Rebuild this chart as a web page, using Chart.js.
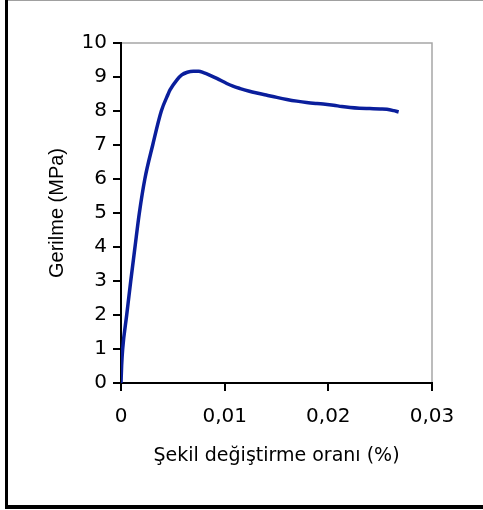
<!DOCTYPE html>
<html>
<head>
<meta charset="utf-8">
<script src="https://cdn.jsdelivr.net/npm/chart.js@4"></script>
<style>
html,body{margin:0;padding:0;background:#fff;}
#wrap{position:relative;width:483px;height:510px;}
</style>
</head>
<body>
<div id="wrap"><canvas id="c" width="483" height="510"></canvas></div>
<script>
// Data
const strain = [0, 0.00006, 0.00016, 0.00055, 0.00094, 0.00135, 0.00177, 0.0023, 0.00306, 0.00389,
  0.00455, 0.00473, 0.00538, 0.00586, 0.0064, 0.00698, 0.0075, 0.00795, 0.0086, 0.00924,
  0.0102, 0.0108, 0.0115, 0.0123, 0.0131, 0.0140, 0.01503, 0.016, 0.01696, 0.0179,
  0.0189, 0.0197, 0.0205, 0.0213, 0.0221, 0.0230, 0.0240, 0.0250, 0.02565, 0.0263, 0.02678];
const stress = [0, 0.5, 1, 2, 3, 4, 5, 6, 7, 8,
  8.5, 8.62, 8.91, 9.06, 9.14, 9.17, 9.17, 9.13, 9.05, 8.96,
  8.81, 8.73, 8.66, 8.59, 8.53, 8.47, 8.40, 8.34, 8.29, 8.25,
  8.22, 8.20, 8.17, 8.13, 8.10, 8.08, 8.07, 8.06, 8.05, 8.01, 7.97];
const xTickValues = [0, 0.01, 0.02, 0.03];
const xTickLabels = ['0', '0,01', '0,02', '0,03'];
const yTickValues = [0, 1, 2, 3, 4, 5, 6, 7, 8, 9, 10];
const xTitle = 'Şekil değiştirme oranı (%)';
const yTitle = 'Gerilme (MPa)';

const points = strain.map((x, i) => ({x: x, y: stress[i]}));

const framePlugin = {
  id: 'frame',
  beforeDraw(chart) {
    const ctx = chart.ctx;
    ctx.save();
    ctx.fillStyle = '#fff';
    ctx.fillRect(0, 0, chart.width, chart.height);
    // outer frame
    ctx.fillStyle = '#a0a0a0';
    ctx.fillRect(8, 0, chart.width - 8, 1);
    ctx.fillStyle = '#000';
    ctx.fillRect(5, 0, 3, 509);
    ctx.fillRect(5, 505, chart.width - 5, 4);
    // plot area top/right border
    const a = chart.chartArea;
    ctx.strokeStyle = '#a6a6a6';
    ctx.lineWidth = 1.5;
    ctx.beginPath();
    ctx.moveTo(a.left, a.top);
    ctx.lineTo(a.right, a.top);
    ctx.lineTo(a.right, a.bottom);
    ctx.stroke();
    ctx.restore();
  }
};

new Chart(document.getElementById('c'), {
  type: 'scatter',
  data: {
    datasets: [{
      data: points,
      showLine: true,
      borderColor: '#0a1e9c',
      backgroundColor: '#0a1e9c',
      borderWidth: 3.5,
      pointRadius: 0,
      cubicInterpolationMode: 'monotone',
      fill: false
    }]
  },
  options: {
    responsive: false,
    animation: false,
    devicePixelRatio: 1,
    layout: {padding: {left: 0, top: 43, right: 51, bottom: 0}},
    plugins: {legend: {display: false}, tooltip: {enabled: false}},
    scales: {
      x: {
        type: 'linear',
        min: 0, max: 0.03,
        afterBuildTicks: s => { s.ticks = xTickValues.map(v => ({value: v})); },
        afterFit: s => { s.height = 127; },
        border: {display: true, color: '#000', width: 2},
        grid: {drawOnChartArea: false, drawTicks: true, tickLength: 8, color: '#000', lineWidth: 2},
        ticks: {
          color: '#000',
          font: {family: 'DejaVu Sans', size: 20},
          padding: 14,
          maxRotation: 0,
          callback: (v) => { const i = xTickValues.indexOf(v); return i >= 0 ? xTickLabels[i] : ''; }
        },
        title: {
          display: true, text: xTitle, color: '#000',
          font: {family: 'DejaVu Sans', size: 19},
          padding: {top: 0, bottom: 43}
        }
      },
      y: {
        type: 'linear',
        min: 0, max: 10,
        afterBuildTicks: s => { s.ticks = yTickValues.map(v => ({value: v})); },
        afterFit: s => { s.width = 121; },
        border: {display: true, color: '#000', width: 2},
        grid: {drawOnChartArea: false, drawTicks: true, tickLength: 8, color: '#000', lineWidth: 2},
        ticks: {
          color: '#000',
          font: {family: 'DejaVu Sans', size: 20},
          padding: 6,
          callback: (v) => String(v)
        },
        title: {
          display: true, text: yTitle, color: '#000',
          font: {family: 'Liberation Sans', size: 20},
          padding: {top: 45, bottom: 0}
        }
      }
    }
  },
  plugins: [framePlugin]
});
</script>
</body>
</html>
